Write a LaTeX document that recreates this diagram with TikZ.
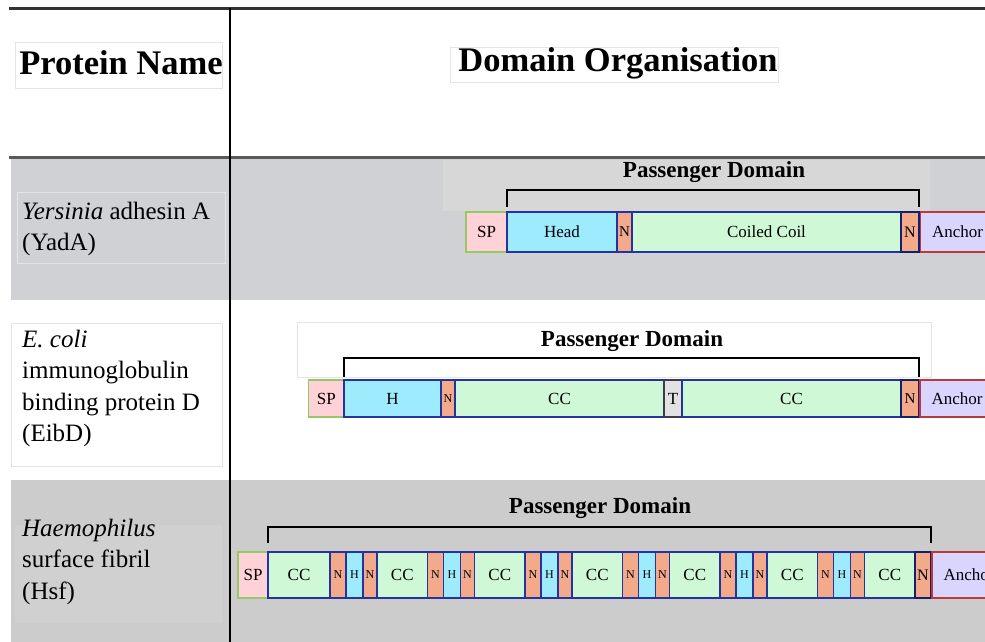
\documentclass[tikz,border=0pt]{standalone}
\usepackage{fontspec}
\setmainfont{Liberation Serif}

% palette
\definecolor{rowA}{HTML}{D0D1D4}
\definecolor{rowC}{HTML}{CCCCCC}
\definecolor{pdbox}{HTML}{D7D7D8}
\definecolor{lblC}{HTML}{D0D0D0}
\definecolor{faint}{HTML}{E4E4E4}
\definecolor{spfill}{HTML}{FFD2D8}
\definecolor{spline}{HTML}{96C864}
\definecolor{hfill}{HTML}{9EEBFE}
\definecolor{nfill}{HTML}{F2AA8A}
\definecolor{ccfill}{HTML}{CEF8D6}
\definecolor{tfill}{HTML}{E2E2E2}
\definecolor{tline}{HTML}{3A3A50}
\definecolor{anfill}{HTML}{D9D5FF}
\definecolor{anline}{HTML}{B83A3A}
\definecolor{domline}{HTML}{2433A0}
\definecolor{endline}{HTML}{16206A}

\begin{document}
\begin{tikzpicture}[x=1pt,y=-1pt,
  seg/.style={draw, line width=1.4pt, inner sep=0pt, outer sep=0pt, anchor=west,
              font=\rmfamily\fontsize{17}{17}\selectfont},
  spbox/.style={seg, fill=spfill, draw=spline},
  hbox/.style={seg, fill=hfill, draw=domline},
  nbox/.style={seg, fill=nfill, draw=domline, font=\rmfamily\fontsize{15}{15}\selectfont},
  ccbox/.style={seg, fill=ccfill, draw=domline},
  tbox/.style={seg, fill=tfill, draw=tline},
  endn/.style={nbox, draw=endline, line width=2.4pt, font=\rmfamily\fontsize{16}{16}\selectfont},
  anchorbox/.style={seg, fill=anfill, draw=anline, minimum width=74},
  bracket/.style={draw=black, line width=2pt},
  pdlabel/.style={font=\rmfamily\fontsize{23}{23}\selectfont\bfseries},
  header/.style={font=\rmfamily\fontsize{34.5}{40}\selectfont\bfseries, inner sep=0pt},
  namebox/.style={draw=faint, line width=0.6pt, inner sep=0pt},
  nametext/.style={align=left, anchor=west, inner sep=0pt,
                   font=\rmfamily\fontsize{25}{31.5}\selectfont}
]
\clip (0,0) rectangle (985,642);
\fill[white] (0,0) rectangle (985,642);

% ---- row backgrounds ----
\fill[rowA] (11,159) rectangle (985,300);
\fill[rowC] (11,480) rectangle (985,642);

% ---- table rules ----
\draw[line width=2.5pt, color=black!80] (9,8.5) -- (985,8.5);
\draw[line width=2.5pt, color=black!65] (9,157.5) -- (985,157.5);
\draw[line width=2pt, black] (230,8) -- (230,642);

% ---- column headers ----
\node[namebox, fill=white, minimum width=207, minimum height=46] (hdrname) at (118.5,65) {};
\node[header] (hdrnametxt) at (121,63) {Protein Name};
\node[namebox, fill=white, minimum width=328, minimum height=35] (hdrdom) at (614,64.5) {};
\node[header] (hdrdomtxt) at (618,63) {Domain Organisation};

% ---- protein names ----
\node[namebox, fill=rowA, minimum width=208, minimum height=71] (nameA) at (121,227.5) {};
\node[nametext] (nameAtxt) at (22,229) {\textit{Yersinia} adhesin A\\(YadA)};

\node[namebox, fill=white, minimum width=211, minimum height=143] (nameB) at (116.5,394.5) {};
\node[nametext] (nameBtxt) at (22,388.5) {\textit{E. coli}\\immunoglobulin\\binding protein D\\(EibD)};

\node[namebox, draw=none, fill=lblC, minimum width=207, minimum height=98] (nameC) at (118.5,574) {};
\node[nametext] (nameCtxt) at (22,561.5) {\textit{Haemophilus}\\surface fibril\\(Hsf)};

% ---- YadA ----
\node[namebox, fill=pdbox, draw=none, minimum width=487, minimum height=51] (pdAbox) at (686.5,185.5) {};
\node[pdlabel] (pdA) at (714,172) {Passenger Domain};
\begin{scope}[seg/.append style={minimum height=40}]
  \node[spbox, minimum width=41] (ysp) at (466,232) {SP};
  \node[hbox, minimum width=110] (yhead) at (ysp.east) {Head};
  \node[nbox, minimum width=15] (yn1) at (yhead.east) {N};
  \node[ccbox, minimum width=269] (ycc) at (yn1.east) {Coiled Coil};
  \node[endn, minimum width=18] (yn2) at (ycc.east) {N};
  \node[anchorbox] (yanc) at ([xshift=1.5pt]yn2.east) {Anchor};
\end{scope}
\draw[bracket] ([yshift=5pt]yhead.north west) -- ++(0,-17) -| ([yshift=5pt]yn2.north east);

% ---- EibD ----
\node[namebox, fill=white, minimum width=634, minimum height=55] (pdBbox) at (614,349.5) {};
\node[pdlabel] (pdB) at (632,341) {Passenger Domain};
\begin{scope}[seg/.append style={minimum height=37},
              nbox/.append style={font=\rmfamily\fontsize{12}{12}\selectfont}]
  \node[spbox, minimum width=35.5] (esp) at (308.5,398.5) {SP};
  \node[hbox, minimum width=97] (eh) at (esp.east) {H};
  \node[nbox, minimum width=14] (en1) at (eh.east) {N};
  \node[ccbox, minimum width=209] (ecc1) at (en1.east) {CC};
  \node[tbox, minimum width=18] (et) at (ecc1.east) {T};
  \node[ccbox, minimum width=219] (ecc2) at (et.east) {CC};
  \node[endn, minimum width=18, font=\rmfamily\fontsize{15}{15}\selectfont] (en2) at (ecc2.east) {N};
  \node[anchorbox] (eanc) at ([xshift=1pt]en2.east) {Anchor};
\end{scope}
\draw[bracket] ([yshift=3pt]eh.north west) -- ++(0,-19) -| ([yshift=3pt]en2.north east);

% ---- Hsf ----
\node[pdlabel] (pdC) at (600,508) {Passenger Domain};
\begin{scope}[seg/.append style={minimum height=46},
              nbox/.append style={font=\rmfamily\fontsize{12}{12}\selectfont},
              hbox/.append style={font=\rmfamily\fontsize{12}{12}\selectfont}]
  \node[spbox, minimum width=30] (hsp) at (238,575) {SP};
  \node[ccbox, minimum width=62, font=\rmfamily\fontsize{17}{17}\selectfont] (hcc0) at (hsp.east) {CC};
  \foreach \i [evaluate=\i as \p using int(\i-1)] in {1,...,6} {
    \node[nbox, minimum width=16] (hna\i) at (hcc\p.east) {N};
    \node[hbox, minimum width=17] (hh\i) at (hna\i.east) {H};
    \node[nbox, minimum width=14] (hnb\i) at (hh\i.east) {N};
    \node[ccbox, minimum width=50.5, font=\rmfamily\fontsize{17}{17}\selectfont] (hcc\i) at (hnb\i.east) {CC};
  }
  \node[endn, minimum width=16, font=\rmfamily\fontsize{16}{16}\selectfont] (hn7) at (hcc6.east) {N};
  \node[anchorbox] (hanc) at ([xshift=1pt]hn7.east) {Anchor};
\end{scope}
\draw[bracket] ([yshift=9pt]hcc0.north west) -- ++(0,-16) -| ([yshift=9pt]hn7.north east);
\end{tikzpicture}
\end{document}
